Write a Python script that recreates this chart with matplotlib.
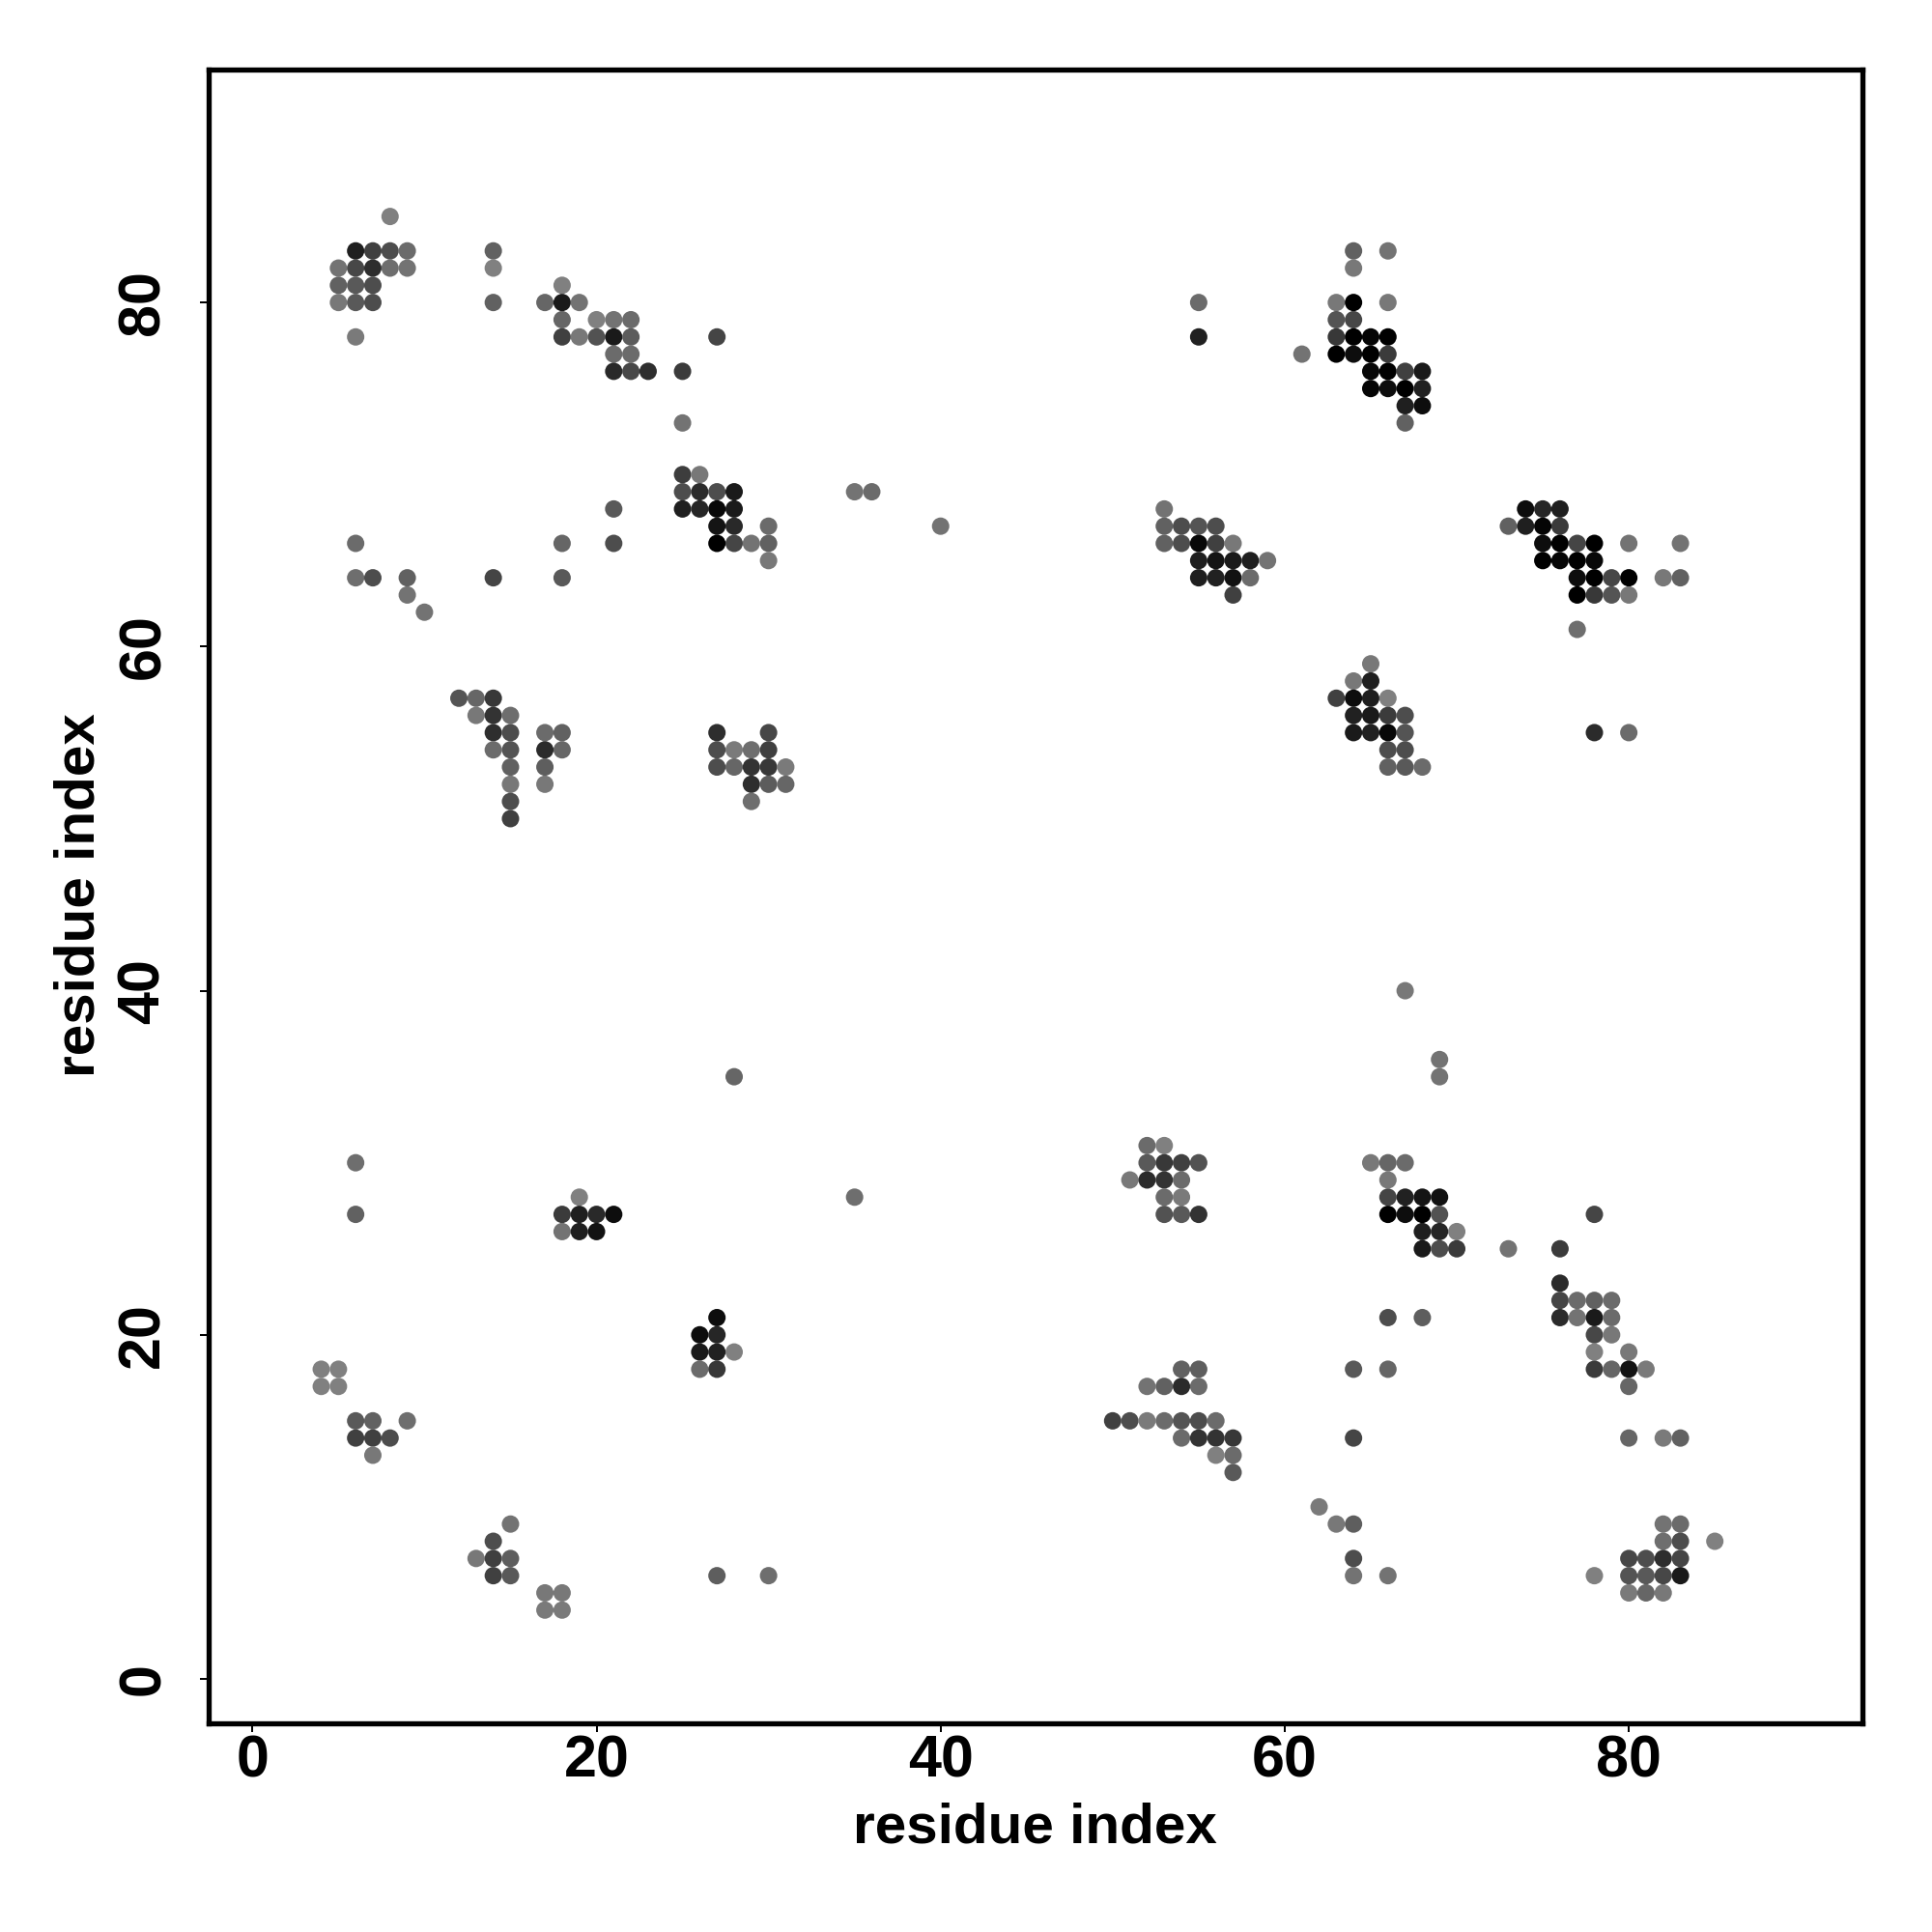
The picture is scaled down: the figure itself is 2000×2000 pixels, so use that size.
import matplotlib
matplotlib.use("Agg")
import matplotlib.pyplot as plt

# residue-residue contacts: x index, y index, grey level (0 black, 1 white)
contact_x = [
    8,
    6, 7, 8, 9, 14, 64, 66,
    5, 6, 7, 8, 9, 14, 64,
    5, 6, 7, 18,
    5, 6, 7, 14, 17, 18, 19, 55, 63, 64, 66,
    18, 20, 21, 22, 63, 64,
    6, 18, 19, 20, 21, 22, 27, 55, 63, 64, 65, 66,
    21, 22, 61, 63, 64, 65, 66,
    21, 22, 23, 25, 65, 66, 67, 68,
    65, 66, 67, 68,
    67, 68,
    25, 67,
    25, 26,
    25, 26, 27, 28, 35, 36,
    21, 25, 26, 27, 28, 53, 74, 75, 76,
    27, 28, 30, 40, 53, 54, 55, 56, 73, 74, 75, 76,
    6, 18, 21, 27, 28, 29, 30, 53, 54, 55, 56, 57, 75, 76, 77, 78, 80, 83,
    30, 55, 56, 57, 58, 59, 75, 76, 77, 78,
    6, 7, 9, 14, 18, 55, 56, 57, 58, 77, 78, 79, 80, 82, 83,
    9, 57, 77, 78, 79, 80,
    10,
    77,
    65,
    64, 65,
    12, 13, 14, 63, 64, 65, 66,
    13, 14, 15, 64, 65, 66, 67,
    14, 15, 17, 18, 27, 30, 64, 65, 66, 67, 78, 80,
    14, 15, 17, 18, 27, 28, 29, 30, 66, 67,
    15, 17, 27, 28, 29, 30, 31, 66, 67, 68,
    15, 17, 29, 30, 31,
    15, 29,
    15,
    67,
    69,
    28, 69,
    52, 53,
    6, 52, 53, 54, 55, 65, 66, 67,
    51, 52, 53, 54, 66,
    19, 35, 53, 54, 66, 67, 68, 69,
    6, 18, 19, 20, 21, 53, 54, 55, 66, 67, 68, 69, 78,
    18, 19, 20, 68, 69, 70,
    68, 69, 70, 73, 76,
    76,
    76, 77, 78, 79,
    27, 66, 68, 76, 77, 78, 79,
    26, 27, 78, 79,
    26, 27, 28, 78, 80,
    4, 5, 26, 27, 54, 55, 64, 66, 78, 79, 80, 81,
    4, 5, 52, 53, 54, 55, 80,
    6, 7, 9, 50, 51, 52, 53, 54, 55, 56,
    6, 7, 8, 54, 55, 56, 57, 64, 80, 82, 83,
    7, 56, 57,
    57,
    62,
    15, 63, 64, 82, 83,
    14, 82, 83, 85,
    13, 14, 15, 64, 80, 81, 82, 83,
    14, 15, 27, 30, 64, 66, 78, 80, 81, 82, 83,
    17, 18, 80, 81, 82,
    17, 18,
]

contact_y = [
    85,
    83, 83, 83, 83, 83, 83, 83,
    82, 82, 82, 82, 82, 82, 82,
    81, 81, 81, 81,
    80, 80, 80, 80, 80, 80, 80, 80, 80, 80, 80,
    79, 79, 79, 79, 79, 79,
    78, 78, 78, 78, 78, 78, 78, 78, 78, 78, 78, 78,
    77, 77, 77, 77, 77, 77, 77,
    76, 76, 76, 76, 76, 76, 76, 76,
    75, 75, 75, 75,
    74, 74,
    73, 73,
    70, 70,
    69, 69, 69, 69, 69, 69,
    68, 68, 68, 68, 68, 68, 68, 68, 68,
    67, 67, 67, 67, 67, 67, 67, 67, 67, 67, 67, 67,
    66, 66, 66, 66, 66, 66, 66, 66, 66, 66, 66, 66, 66, 66, 66, 66, 66, 66,
    65, 65, 65, 65, 65, 65, 65, 65, 65, 65,
    64, 64, 64, 64, 64, 64, 64, 64, 64, 64, 64, 64, 64, 64, 64,
    63, 63, 63, 63, 63, 63,
    62,
    61,
    59,
    58, 58,
    57, 57, 57, 57, 57, 57, 57,
    56, 56, 56, 56, 56, 56, 56,
    55, 55, 55, 55, 55, 55, 55, 55, 55, 55, 55, 55,
    54, 54, 54, 54, 54, 54, 54, 54, 54, 54,
    53, 53, 53, 53, 53, 53, 53, 53, 53, 53,
    52, 52, 52, 52, 52,
    51, 51,
    50,
    40,
    36,
    35, 35,
    31, 31,
    30, 30, 30, 30, 30, 30, 30, 30,
    29, 29, 29, 29, 29,
    28, 28, 28, 28, 28, 28, 28, 28,
    27, 27, 27, 27, 27, 27, 27, 27, 27, 27, 27, 27, 27,
    26, 26, 26, 26, 26, 26,
    25, 25, 25, 25, 25,
    23,
    22, 22, 22, 22,
    21, 21, 21, 21, 21, 21, 21,
    20, 20, 20, 20,
    19, 19, 19, 19, 19,
    18, 18, 18, 18, 18, 18, 18, 18, 18, 18, 18, 18,
    17, 17, 17, 17, 17, 17, 17,
    15, 15, 15, 15, 15, 15, 15, 15, 15, 15,
    14, 14, 14, 14, 14, 14, 14, 14, 14, 14, 14,
    13, 13, 13,
    12,
    10,
    9, 9, 9, 9, 9,
    8, 8, 8, 8,
    7, 7, 7, 7, 7, 7, 7, 7,
    6, 6, 6, 6, 6, 6, 6, 6, 6, 6, 6,
    5, 5, 5, 5, 5,
    4, 4,
]

contact_grey = [
    .50,
    .12, .25, .30, .42, .38, .38, .45,
    .45, .28, .18, .43, .45, .50, .47,
    .38, .35, .30, .50,
    .47, .35, .30, .38, .40, .10, .45, .42, .47, .00, .47,
    .40, .50, .45, .42, .33, .28,
    .48, .25, .47, .32, .10, .36, .27, .13, .22, .00, .02, .00,
    .42, .42, .45, .00, .05, .00, .23,
    .16, .28, .18, .23, .03, .00, .25, .10,
    .02, .05, .00, .13,
    .12, .05,
    .45, .38,
    .24, .47,
    .30, .17, .30, .10, .45, .42,
    .35, .12, .15, .03, .10, .45, .05, .15, .12,
    .08, .16, .42, .45, .38, .30, .33, .30, .38, .12, .02, .23,
    .42, .40, .30, .00, .27, .45, .38, .38, .30, .03, .25, .47, .05, .00, .27, .00, .45, .45,
    .47, .12, .08, .10, .12, .45, .00, .02, .00, .03,
    .43, .30, .38, .27, .35, .12, .13, .07, .42, .05, .00, .28, .00, .47, .38,
    .45, .25, .00, .22, .33, .47,
    .45,
    .43,
    .47,
    .47, .12,
    .33, .40, .22, .25, .05, .12, .50,
    .47, .20, .43, .13, .10, .23, .30,
    .18, .30, .42, .38, .18, .28, .10, .13, .03, .33, .17, .42,
    .42, .33, .17, .40, .30, .48, .43, .25, .30, .30,
    .38, .37, .30, .40, .20, .22, .48, .38, .35, .42,
    .47, .47, .18, .36, .40,
    .30, .43,
    .25,
    .47,
    .45,
    .40, .45,
    .42, .50,
    .43, .35, .22, .25, .32, .47, .40, .42,
    .47, .17, .20, .42, .47,
    .50, .43, .42, .48, .27, .13, .08, .07,
    .38, .23, .12, .16, .05, .32, .35, .20, .00, .05, .00, .32, .27,
    .45, .12, .07, .12, .15, .50,
    .10, .30, .23, .45, .23,
    .17,
    .27, .42, .38, .42,
    .05, .30, .37, .17, .45, .10, .42,
    .05, .15, .28, .47,
    .10, .13, .50, .50, .47,
    .50, .50, .42, .22, .38, .37, .35, .40, .23, .40, .08, .48,
    .50, .50, .45, .38, .17, .42, .40,
    .35, .38, .43, .25, .30, .48, .42, .33, .30, .42,
    .25, .25, .30, .42, .20, .20, .22, .27, .40, .48, .38,
    .47, .50, .42,
    .35,
    .48,
    .45, .47, .37, .45, .42,
    .30, .43, .30, .50,
    .47, .25, .37, .30, .28, .30, .18, .27,
    .25, .35, .37, .43, .45, .45, .50, .33, .35, .28, .10,
    .47, .47, .48, .40, .47,
    .48, .48,
]

tick_values = [0, 20, 40, 60, 80]
axis_title = "residue index"

assert len(contact_x) == len(contact_y) == len(contact_grey)

plt.rcParams["font.family"] = ["Liberation Sans", "DejaVu Sans"]
plt.rcParams["font.weight"] = "bold"

W = H = 2000
fig = plt.figure(figsize=(10, 10), dpi=200, facecolor="white")
left, right, top, bottom = 216.3, 1928.0, 72.0, 1783.7
ax = fig.add_axes([left / W, 1 - bottom / H, (right - left) / W, (bottom - top) / H])

ax.scatter(contact_x, contact_y, s=42,
           c=[str(g) for g in contact_grey], linewidths=0, zorder=3)

ax.set_xlim(-2.527, 93.58)
ax.set_ylim(-2.566, 93.54)
ax.set_xticks(tick_values)
ax.set_yticks(tick_values)

for spine in ax.spines.values():
    spine.set_linewidth(1.92)

ax.tick_params(axis="both", length=3.35, width=0.72, color="black", labelsize=22)
ax.tick_params(axis="x", pad=1.0)
ax.tick_params(axis="y", pad=10.5)
for lab in ax.get_yticklabels():
    lab.set_rotation(90)
    lab.set_verticalalignment("center")

ax.set_xlabel(axis_title, fontsize=21, fontweight="bold", va="baseline")
ax.set_ylabel(axis_title, fontsize=21, fontweight="bold", va="baseline")
ax.xaxis.set_label_coords(1071 / W, 1 - 1908 / H, transform=fig.transFigure)
ax.yaxis.set_label_coords(98 / W, 1 - 927 / H, transform=fig.transFigure)

fig.savefig("out.png", dpi=200, facecolor="white")
